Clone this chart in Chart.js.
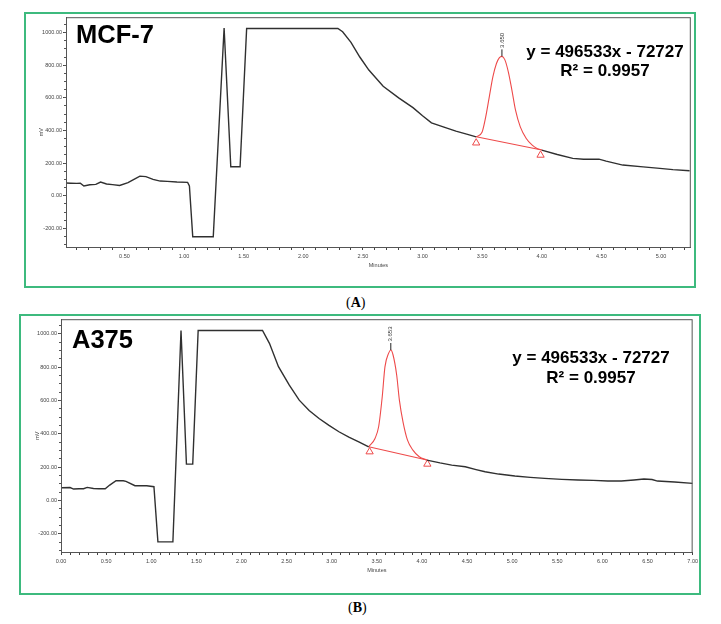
<!DOCTYPE html>
<html>
<head>
<script src="https://cdn.jsdelivr.net/npm/chart.js@4.4.1/dist/chart.umd.min.js"></script>
<title>Chromatograms</title>
<style>
    body { margin: 0; background: #fff; }
    .frame { position: absolute; border: 2px solid #3dba7e; box-sizing: border-box; }
    canvas { position: absolute; }
    .cap { position: absolute; font-family: "Liberation Serif", "Times New Roman", serif; font-size: 14px; }
</style>
</head>
<body>

<div class="frame" style="left:24px; top:12px; width:672px; height:276px;"></div>
<canvas id="chartA" width="672" height="276" style="left:24px; top:12px;"></canvas>
<div class="cap" style="left:346px; top:295px;">(<b>A</b>)</div>

<div class="frame" style="left:19px; top:314px; width:682px; height:281px;"></div>
<canvas id="chartB" width="682" height="281" style="left:19px; top:314px;"></canvas>
<div class="cap" style="left:348px; top:600px;">(<b>B</b>)</div>

<script>
// ---- MCF-7 run (panel A) ----
// black trace, null = where the integrated (red) peak is drawn instead
var timeA   = [0.01, 0.05, 0.10, 0.13, 0.16, 0.21, 0.26, 0.30, 0.35, 0.40, 0.46, 0.53, 0.58, 0.63, 0.68, 0.74, 0.80, 0.86, 0.94, 1.03,
               1.045, 1.073, 1.245, 1.336, 1.392, 1.47, 1.525, 2.29, 2.33, 2.40, 2.474, 2.55, 2.67, 2.80, 2.92, 3.00, 3.075, 3.18, 3.28, 3.37, 3.45,
               3.70, 4.00, 4.13, 4.26, 4.35, 4.48, 4.54, 4.68, 4.85, 4.99, 5.10, 5.24];
var signalA = [78, 77, 76, 77, 60, 67, 70, 84, 72, 68, 63, 80, 100, 120, 117, 100, 90, 88, 84, 82,
               60, -251, -251, 1028, 178, 178, 1025, 1025, 1005, 940, 850, 770, 671, 600, 540, 490, 447, 420, 396, 378, 361,
               null, 280, 253, 229, 224, 224, 212, 188, 177, 168, 160, 153];
var peakTimeA   = [3.45, 3.50, 3.53, 3.56, 3.59, 3.62, 3.645, 3.666, 3.69, 3.72, 3.75, 3.78, 3.82, 3.87, 3.92, 3.96, 4.00];
var peakSignalA = [361, 391, 483, 606, 728, 810, 846, 854, 834, 758, 646, 524, 422, 351, 310, 290, 280];
var baseTimeA   = [3.45, 4.00];
var baseSignalA = [361, 280];
var markTimeA   = [3.45, 3.99];
var markSignalA = [324, 249];

// ---- A375 run (panel B) ----
var timeB   = [0.008, 0.10, 0.14, 0.20, 0.25, 0.29, 0.36, 0.42, 0.49, 0.54, 0.61, 0.69, 0.72, 0.82, 0.95, 1.03,
               1.074, 1.24, 1.33, 1.39, 1.46, 1.52, 2.233, 2.31, 2.41, 2.53, 2.64, 2.75, 2.86, 2.97, 3.08, 3.19, 3.30, 3.41,
               3.70, 4.055, 4.20, 4.33, 4.48, 4.60, 4.70, 4.85, 5.03, 5.20, 5.36, 5.55, 5.73, 5.90, 6.06, 6.21, 6.35, 6.46, 6.55, 6.61, 6.80, 7.00];
var signalB = [76, 77, 68, 70, 70, 78, 71, 70, 70, 92, 118, 118, 114, 88, 88, 82,
               -249, -249, 1020, 218, 218, 1020, 1020, 943, 803, 692, 602, 540, 492, 450, 412, 380, 352, 322,
               null, 242, 225, 212, 202, 185, 172, 158, 146, 138, 132, 126, 122, 120, 116, 116, 122, 128, 125, 116, 110, 102];
var peakTimeB   = [3.41, 3.48, 3.52, 3.56, 3.59, 3.63, 3.655, 3.68, 3.72, 3.75, 3.79, 3.84, 3.90, 3.97, 4.055];
var peakSignalB = [322, 372, 442, 622, 802, 883, 903, 873, 753, 602, 472, 362, 302, 262, 242];
var baseTimeB   = [3.41, 4.055];
var baseSignalB = [322, 242];
var markTimeB   = [3.42, 4.06];
var markSignalB = [292, 218];

var sampleNames = ['MCF-7', 'A375'];
var equationText = 'y = 496533x - 72727';
var r2Text = 'R\u00B2 = 0.9957';
var peakLabels = ['3.650', '3.653'];

var traceColor = '#303030';
var peakColor = '#ee4a4a';
var axisFont = 'Arial, "Liberation Sans", sans-serif';

function pts(xs, ys) {
    return xs.map(function (x, i) { return {x: x, y: ys[i]}; });
}

// ticks on round multiples of the step, whatever the axis ends are
function roundTicks(step) {
    return function (s) {
        var out = [];
        for (var v = Math.ceil(s.min / step) * step; v <= s.max + 1e-9; v += step) {
            out.push({ value: Math.round(v * 1000) / 1000 });
        }
        s.ticks = out;
    };
}

// text overlays, plot frame and the peak apex tick/label
var overlay = {
    id: 'overlay',
    afterDraw: function (chart, args, o) {
        var ctx = chart.ctx, a = chart.chartArea;
        ctx.save();
        ctx.strokeStyle = '#555';
        ctx.lineWidth = 1;
        ctx.strokeRect(a.left + 0.5, a.top + 0.5, a.right - a.left - 1, a.bottom - a.top);

        ctx.fillStyle = '#000';
        ctx.textBaseline = 'middle';
        ctx.font = 'bold 25.5px ' + axisFont;
        ctx.textAlign = 'left';
        ctx.fillText(o.name, a.left + o.nameDx, a.top + o.nameDy);

        ctx.font = 'bold 17px ' + axisFont;
        ctx.textAlign = 'center';
        ctx.fillText(equationText, o.eqX, o.eqY);
        ctx.fillText(r2Text, o.eqX, o.eqY + 19.5);

        var px = chart.scales.x.getPixelForValue(o.peakT);
        var py = chart.scales.y.getPixelForValue(o.peakV);
        ctx.strokeStyle = '#222';
        ctx.beginPath();
        ctx.moveTo(px, py);
        ctx.lineTo(px, py - 7);
        ctx.stroke();
        ctx.translate(px, py - 16);
        ctx.rotate(-Math.PI / 2);
        ctx.font = '6px ' + axisFont;
        ctx.fillStyle = '#333';
        ctx.fillText(o.peakLabel, 0, 0);
        ctx.restore();
    }
};

function makeChart(id, d) {
    var ctx = document.getElementById(id).getContext('2d');
    return new Chart(ctx, {
        type: 'scatter',
        data: {
            datasets: [
                { data: pts(d.time, d.signal), showLine: true, borderColor: traceColor, borderWidth: 1.4,
                  pointRadius: 0, spanGaps: false, tension: 0 },
                { data: pts(d.peakTime, d.peakSignal), showLine: true, borderColor: peakColor, borderWidth: 1.1,
                  pointRadius: 0, cubicInterpolationMode: 'monotone' },
                { data: pts(d.baseTime, d.baseSignal), showLine: true, borderColor: peakColor, borderWidth: 1.1,
                  pointRadius: 0 },
                { data: pts(d.markTime, d.markSignal), showLine: false, pointStyle: 'triangle', pointRadius: 4.2,
                  borderColor: peakColor, backgroundColor: 'rgba(255,255,255,0)', borderWidth: 1 }
            ]
        },
        options: {
            responsive: false,
            animation: false,
            layout: { padding: { top: 5, right: d.padRight, left: 0, bottom: 0 } },
            plugins: {
                legend: { display: false },
                tooltip: { enabled: false },
                overlay: d.overlay
            },
            scales: {
                x: {
                    type: 'linear', position: 'bottom', weight: 1,
                    min: d.xMin, max: d.xMax,
                    grid: { drawOnChartArea: false, tickLength: 3, color: '#444' },
                    border: { display: true, color: '#444', width: 1 },
                    afterBuildTicks: roundTicks(0.5),
                    ticks: { maxRotation: 0, autoSkip: false, padding: 3,
                             color: '#444', font: { size: 5.5, family: axisFont },
                             callback: function (v) { return Number(v).toFixed(2); } },
                    title: { display: true, text: 'Minutes', color: '#444', font: { size: 5.5, family: axisFont },
                             padding: { top: 0, bottom: d.minutesPad } },
                    afterFit: function (s) { s.height = d.xHeight; }
                },
                xMinor: {
                    type: 'linear', position: 'bottom', weight: 0,
                    min: d.xMin, max: d.xMax,
                    grid: { drawOnChartArea: false, tickLength: 3, color: '#444' },
                    border: { display: false },
                    afterBuildTicks: roundTicks(0.1),
                    ticks: { display: false },
                    afterFit: function (s) { s.height = 0; }
                },
                y: {
                    type: 'linear', position: 'left', weight: 1,
                    min: d.yMin, max: d.yMax,
                    grid: { drawOnChartArea: false, tickLength: 3, color: '#444' },
                    border: { display: true, color: '#444', width: 1 },
                    afterBuildTicks: roundTicks(200),
                    ticks: { padding: 1, color: '#444', autoSkip: false,
                             font: { size: 5.5, family: axisFont },
                             callback: function (v) { return Number(v).toFixed(2); } },
                    title: { display: true, text: 'mV', color: '#444', font: { size: 5.5, family: axisFont },
                             padding: { top: d.mvPad, bottom: 0 } },
                    afterFit: function (s) { s.width = 42; }
                },
                yMinor: {
                    type: 'linear', position: 'left', weight: 0,
                    min: d.yMin, max: d.yMax,
                    grid: { drawOnChartArea: false, tickLength: 2, color: '#555' },
                    border: { display: false },
                    afterBuildTicks: roundTicks(50),
                    ticks: { display: false },
                    afterFit: function (s) { s.width = 0; }
                }
            }
        },
        plugins: [overlay]
    });
}

makeChart('chartA', {
    time: timeA, signal: signalA, peakTime: peakTimeA, peakSignal: peakSignalA,
    baseTime: baseTimeA, baseSignal: baseSignalA, markTime: markTimeA, markSignal: markSignalA,
    xMin: 0.01, xMax: 5.25, yMin: -314, yMax: 1094,
    padRight: 5, xHeight: 41, minutesPad: 19.5, mvPad: 14.4,
    overlay: { name: sampleNames[0], nameDx: 10, nameDy: 19, eqX: 581, eqY: 40,
               peakT: 3.666, peakV: 854, peakLabel: peakLabels[0] }
});

makeChart('chartB', {
    time: timeB, signal: signalB, peakTime: peakTimeB, peakSignal: peakSignalB,
    baseTime: baseTimeB, baseSignal: baseSignalB, markTime: markTimeB, markSignal: markSignalB,
    xMin: 0, xMax: 7, yMin: -310, yMax: 1088,
    padRight: 6, xHeight: 43, minutesPad: 21.5, mvPad: 15.4,
    overlay: { name: sampleNames[1], nameDx: 11, nameDy: 22, eqX: 572, eqY: 44.5,
               peakT: 3.655, peakV: 903, peakLabel: peakLabels[1] }
});
</script>
</body>
</html>
